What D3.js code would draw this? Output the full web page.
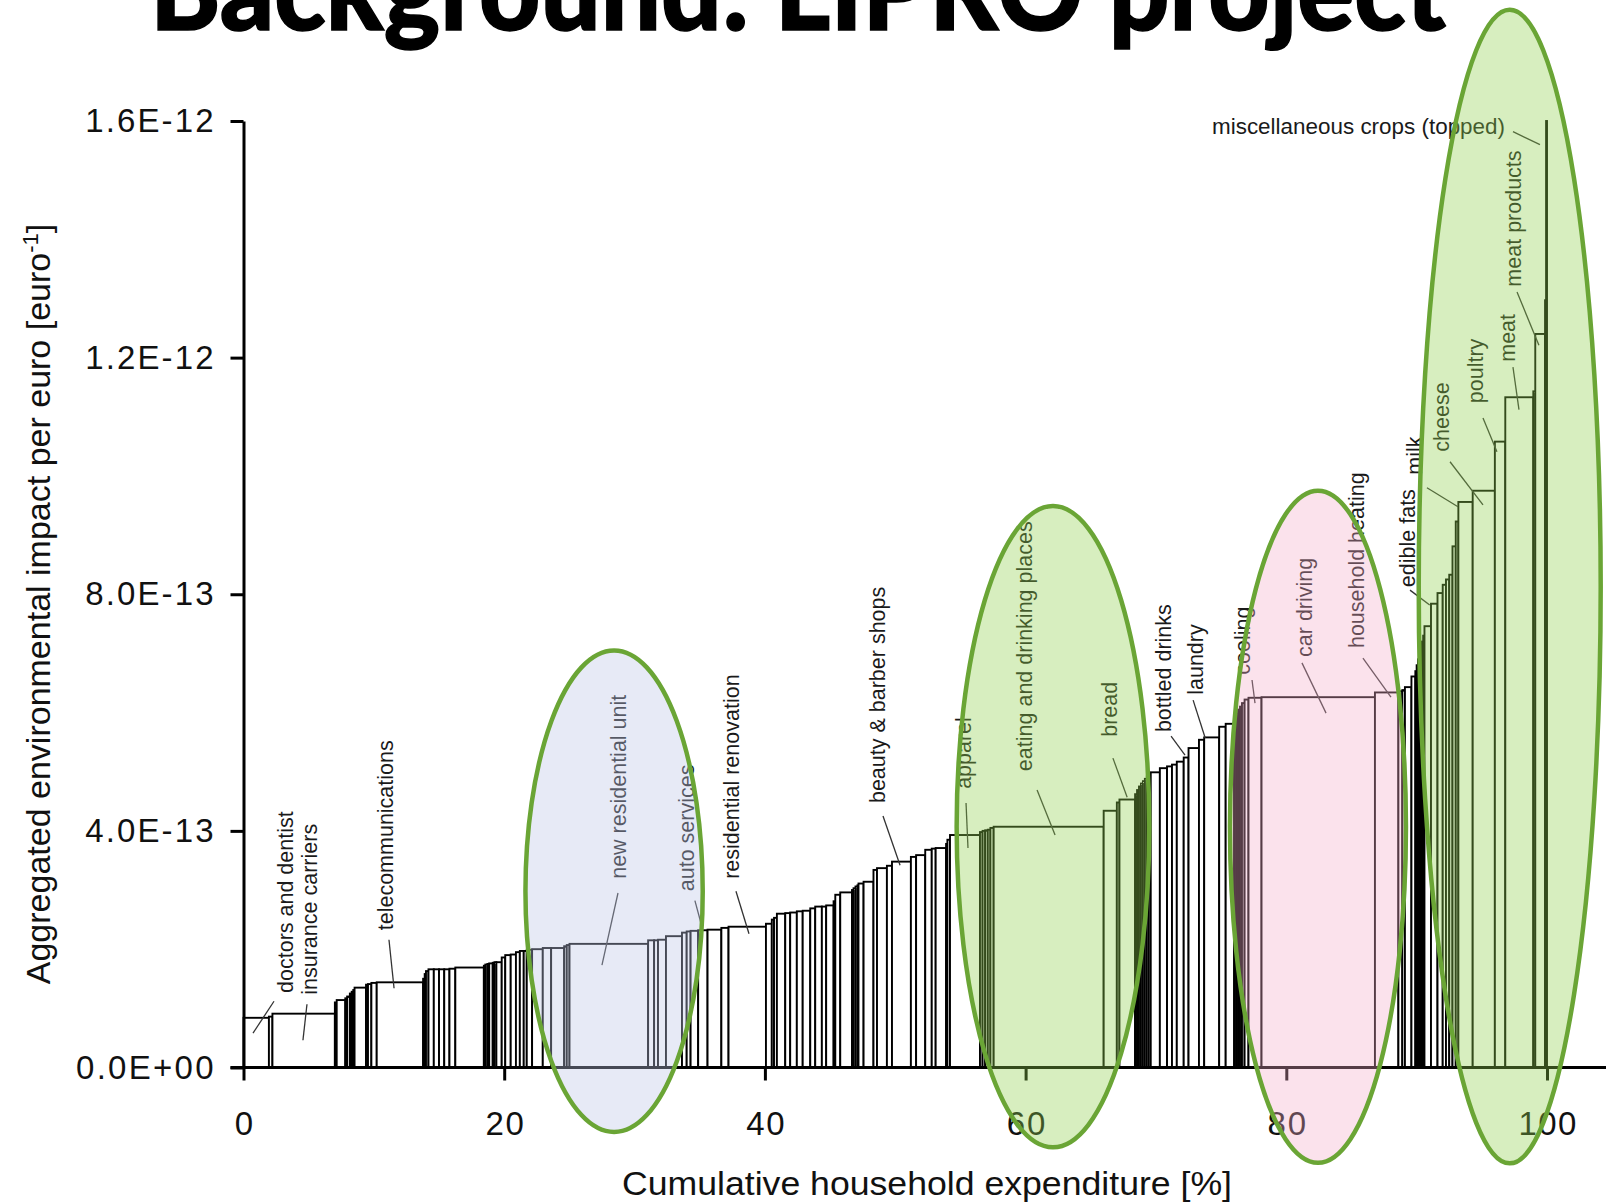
<!DOCTYPE html>
<html>
<head>
<meta charset="utf-8">
<script src="https://cdn.jsdelivr.net/npm/d3@7"></script>
<style>
html, body { margin: 0; padding: 0; background: #fff; }
svg { display: block; }
</style>
</head>
<body>
<script>
// ---------- DATA ----------
// cumulative household expenditure [%] at the right edge of each category
const cumEnd = [
  1.95, 2.22, 7.01, 7.15, 7.81, 7.95, 8.16, 8.30, 8.42, 8.52,
  9.40, 9.55, 9.81, 10.22, 13.78, 13.90, 14.00, 14.19, 14.60, 15.00,
  15.40, 15.80, 16.25, 18.44, 18.55, 18.71, 18.85, 19.12, 19.25, 19.40,
  19.81, 20.08, 20.50, 20.90, 21.20, 21.50, 21.73, 22.14, 22.96, 23.60,
  24.60, 24.80, 25.01, 31.04, 31.50, 31.80, 32.41, 33.64, 34.00, 34.30,
  34.88, 35.60, 36.66, 37.21, 40.08, 40.53, 40.70, 40.92, 41.56, 41.94,
  42.45, 42.90, 43.48, 43.86, 44.37, 44.70, 45.27, 45.40, 45.78, 46.68,
  46.80, 46.95, 47.10, 47.18, 47.57, 48.33, 48.60, 49.36, 49.75, 51.20,
  51.60, 52.30, 52.80, 53.10, 53.90, 54.00, 54.20, 56.50, 56.70, 56.90,
  57.10, 57.30, 57.55, 65.99, 67.00, 67.20, 68.40, 68.55, 68.70, 68.85,
  69.00, 69.15, 69.30, 69.45, 69.60, 70.30, 70.85, 71.23, 71.60, 72.13,
  72.50, 73.30, 73.70, 74.85, 75.35, 76.00, 76.15, 76.30, 76.45, 76.60,
  76.80, 77.10, 78.10, 86.80, 88.60, 88.90, 89.10, 89.60, 89.90, 90.00,
  90.10, 90.20, 90.30, 90.40, 90.50, 90.60, 91.10, 91.60, 92.00, 92.25,
  92.50, 92.75, 93.00, 93.20, 94.30, 96.00, 96.80, 98.95, 99.10, 99.85,
  99.93, 100.00
];
// aggregated environmental impact per euro, in units of 1E-13 euro^-1
const impact = [
  0.84, 0.86, 0.91, 1.10, 1.14, 1.17, 1.20, 1.25, 1.28, 1.31,
  1.35, 1.40, 1.41, 1.43, 1.44, 1.50, 1.58, 1.63, 1.66, 1.66,
  1.66, 1.66, 1.67, 1.69, 1.72, 1.74, 1.75, 1.76, 1.77, 1.78,
  1.78, 1.86, 1.90, 1.91, 1.95, 1.97, 1.97, 1.99, 2.00, 2.02,
  2.02, 2.05, 2.07, 2.09, 2.15, 2.15, 2.16, 2.22, 2.28, 2.30,
  2.31, 2.32, 2.33, 2.36, 2.38, 2.43, 2.50, 2.53, 2.60, 2.61,
  2.62, 2.64, 2.65, 2.69, 2.72, 2.72, 2.74, 2.81, 2.92, 2.96,
  3.00, 3.03, 3.06, 3.08, 3.11, 3.14, 3.34, 3.37, 3.41, 3.48,
  3.56, 3.59, 3.68, 3.70, 3.71, 3.78, 3.85, 3.93, 3.98, 4.00,
  4.01, 4.02, 4.05, 4.07, 4.34, 4.48, 4.53, 4.62, 4.69, 4.75,
  4.80, 4.84, 4.88, 4.92, 4.95, 4.99, 5.06, 5.09, 5.12, 5.17,
  5.24, 5.40, 5.54, 5.58, 5.76, 5.81, 5.90, 5.98, 6.05, 6.10,
  6.16, 6.22, 6.25, 6.26, 6.34, 6.36, 6.38, 6.43, 6.61, 6.70,
  6.80, 6.90, 7.00, 7.10, 7.20, 7.30, 7.46, 7.84, 8.02, 8.16,
  8.25, 8.33, 8.81, 9.23, 9.56, 9.75, 10.58, 11.33, 11.43, 12.40,
  12.97, 16.00
];

const yTickValues = [0, 4, 8, 12, 16];
const yTickLabels = ["0.0E+00", "4.0E-13", "8.0E-13", "1.2E-12", "1.6E-12"];
const xTickValues = [0, 20, 40, 60, 80, 100];

const labelNames = [
  "doctors and dentist", "insurance carriers", "telecommunications",
  "new residential unit", "auto services", "residential renovation",
  "beauty & barber shops", "apparel", "eating and drinking places",
  "bread", "bottled drinks", "laundry", "cooling", "car driving",
  "household heating", "edible fats", "milk", "cheese", "poultry",
  "meat", "meat products", "miscellaneous crops (topped)"
];
// points the leader lines touch, in data units [%, 1E-13]
const leaderTip = [
  [0.73, 0.58], [4.56, 0.46], [11.55, 1.34], [27.5, 1.73], [35.17, 2.38],
  [38.78, 2.26], [50.37, 3.42], [55.58, 3.71], [62.26, 3.93], [67.79, 4.57],
  [72.23, 5.28], [73.78, 5.57], [77.6, 6.16], [83.05, 5.99], [88.03, 6.26],
  [91.0, 7.82], [93.17, 9.48], [95.09, 9.51], [96.16, 10.41], [97.85, 11.12],
  [99.38, 12.21], [99.46, 15.6]
];

// ---------- LAYOUT ----------
const W = 1606, H = 1203;
const leaderFrom = [
  [2.34, 1.12], [4.87, 1.07], [11.16, 2.16], [28.73, 2.95], [34.63, 2.82],
  [37.78, 2.98], [49.06, 4.25], [55.43, 4.47], [60.88, 4.69], [66.7, 5.23],
  [71.16, 5.6], [72.85, 6.21], [77.37, 6.55], [81.2, 6.84], [85.88, 6.92],
  [89.49, 8.07], [90.79, 9.8], [92.56, 10.24], [95.09, 10.98], [97.39, 11.84],
  [97.7, 13.11], [97.39, 15.82]
];
const labelAt = [
  [3.19, 1.26], [5.03, 1.23], [10.86, 2.32], [28.73, 3.19], [33.95, 2.98],
  [37.4, 3.19], [48.67, 4.47], [55.2, 4.71], [59.95, 5.01], [66.4, 5.59],
  [70.55, 5.67], [73.0, 6.3], [76.6, 6.64], [81.36, 6.94], [85.42, 7.09],
  [89.26, 8.12], [89.87, 10.02], [91.94, 10.41], [94.48, 11.23], [96.93, 11.93],
  [97.39, 13.2], [96.78, 15.78]
];
// highlight ellipses (data units): cx %, cy, rx %, ry
const highlights = [
  {cx: 28.43, cy: 2.98, rx: 6.8, ry: 4.07, fill: "rgba(189,197,230,0.37)"},
  {cx: 62.1, cy: 4.07, rx: 7.39, ry: 5.42, fill: "rgba(144,208,78,0.36)"},
  {cx: 82.43, cy: 4.07, rx: 6.75, ry: 5.68, fill: "rgba(243,171,200,0.35)"},
  {cx: 97.14, cy: 8.13, rx: 6.98, ry: 9.75, fill: "rgba(144,208,78,0.36)"}
];

const svg = d3.select("body").append("svg").attr("width", W).attr("height", H);

const x = d3.scaleLinear().domain([0, 100]).range([243.5, 1547]);
const y = d3.scaleLinear().domain([0, 16]).range([1067.5, 121]);

// title (cropped at top as in the slide)
svg.append("text")
  .attr("x", 150).attr("y", 30)
  .attr("textLength", 1296).attr("lengthAdjust", "spacingAndGlyphs")
  .style("font-family", "Lato, 'Open Sans', sans-serif")
  .style("font-weight", 900).style("font-size", "112px")
  .attr("stroke", "#000").attr("stroke-width", 1.5)
  .text("Background: LIPRO project");

// bars
const bars = cumEnd.map((e, i) => ({x0: i === 0 ? 0 : cumEnd[i - 1], x1: e, v: impact[i]}));
svg.append("g").selectAll("rect").data(bars).join("rect")
  .attr("x", d => x(d.x0)).attr("width", d => Math.max(0.01, x(d.x1) - x(d.x0)))
  .attr("y", d => y(d.v)).attr("height", d => y(0) - y(d.v))
  .attr("fill", "#fff").attr("stroke", "#000").attr("stroke-width", 1.9);

// axes
const fontAxis = "'Liberation Sans', Arial, sans-serif";
const yAxis = svg.append("g").attr("transform", `translate(${x(0)},0)`)
  .call(d3.axisLeft(y).tickValues(yTickValues).tickSize(13).tickSizeOuter(0).tickPadding(17)
    .tickFormat((d, i) => yTickLabels[i]));
yAxis.selectAll("path, line").attr("stroke", "#000").attr("stroke-width", 3);
yAxis.selectAll("text").style("font-family", fontAxis).style("font-size", "33px").attr("fill", "#111")
  .each(function () { this.setAttribute("textLength", this.getComputedTextLength() * 1.11); });

const xAxis = svg.append("g").attr("transform", `translate(0,${y(0)})`)
  .call(d3.axisBottom(x).tickValues(xTickValues).tickSize(13).tickSizeOuter(0).tickPadding(31)
    .tickFormat(d3.format("d")));
xAxis.select(".domain").remove();
xAxis.selectAll("line").attr("stroke", "#000").attr("stroke-width", 3);
xAxis.selectAll("text").style("font-family", fontAxis).style("font-size", "33px").attr("fill", "#111")
  .each(function () { this.setAttribute("textLength", this.getComputedTextLength() * 1.05); });
svg.append("line").attr("x1", x(0) - 13).attr("x2", W).attr("y1", y(0)).attr("y2", y(0))
  .attr("stroke", "#000").attr("stroke-width", 3);

// axis titles
svg.append("text").attr("x", 927).attr("y", 1195).attr("text-anchor", "middle")
  .style("font-family", fontAxis).style("font-size", "33px").attr("fill", "#111")
  .attr("textLength", 610).attr("lengthAdjust", "spacingAndGlyphs")
  .text("Cumulative household expenditure [%]");

const yt = svg.append("text").attr("transform", "translate(50,604) rotate(-90)")
  .attr("text-anchor", "middle")
  .style("font-family", fontAxis).style("font-size", "34px").attr("fill", "#111");
yt.append("tspan").text("Aggregated environmental impact per euro [euro");
yt.append("tspan").attr("dy", "-0.55em").style("font-size", "22px").text("-1");
yt.append("tspan").attr("dy", "0.35em").text("]");

// annotation leaders and labels
const fontLab = "'Liberation Sans', Arial, sans-serif";
const ann = svg.append("g");
labelNames.forEach((name, i) => {
  ann.append("line")
    .attr("x1", x(leaderFrom[i][0])).attr("y1", y(leaderFrom[i][1]))
    .attr("x2", x(leaderTip[i][0])).attr("y2", y(leaderTip[i][1]))
    .attr("stroke", "#333").attr("stroke-width", 1.3);
  const horizontal = i === labelNames.length - 1;
  const t = ann.append("text")
    .style("font-family", fontLab).style("font-size", "21.5px").attr("fill", "#1a1a1a")
    .text(name);
  if (horizontal) {
    t.attr("x", x(labelAt[i][0])).attr("y", y(labelAt[i][1])).attr("text-anchor", "end")
      .attr("textLength", 293).attr("lengthAdjust", "spacingAndGlyphs");
  } else {
    t.attr("transform", `translate(${x(labelAt[i][0])},${y(labelAt[i][1])}) rotate(-90)`)
      .attr("dy", "0.35em").attr("text-anchor", "start");
  }
});

// highlight ellipses on top
svg.append("g").selectAll("ellipse").data(highlights).join("ellipse")
  .attr("cx", d => x(d.cx)).attr("cy", d => y(d.cy))
  .attr("rx", d => x(d.rx) - x(0)).attr("ry", d => y(0) - y(d.ry))
  .attr("fill", d => d.fill).attr("stroke", "#6aa535").attr("stroke-width", 4.5);
</script>
</body>
</html>
